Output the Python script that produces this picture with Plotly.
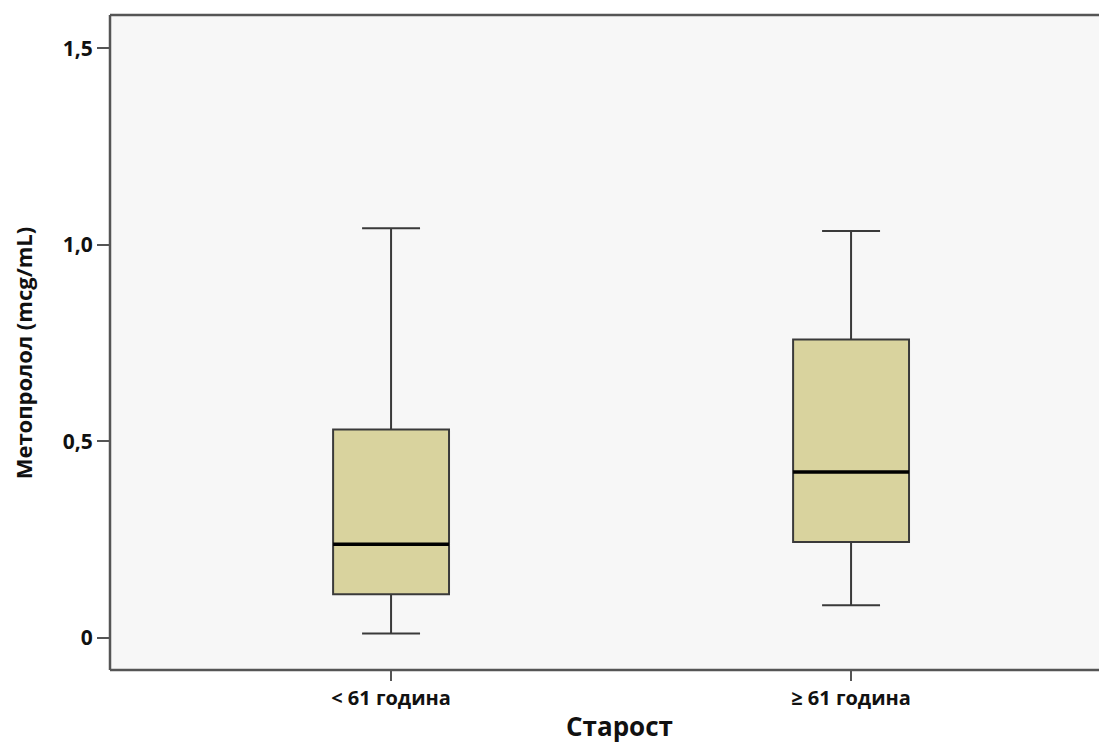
import plotly.graph_objects as go

# Age groups and metoprolol concentration summary (mcg/mL)
groups = ["< 61 година", "≥ 61 година"]
positions = [0, 1]
lower_whisker = [0.011, 0.083]
q1 = [0.111, 0.244]
median = [0.238, 0.422]
q3 = [0.530, 0.759]
upper_whisker = [1.042, 1.035]

y_ticks = [0, 0.5, 1.0, 1.5]
y_tick_labels = ["0", "0,5", "1,0", "1,5"]

x_title = "Старост"
y_title = "Метопролол (mcg/mL)"

box_width = 0.252
fill = "#d9d39e"
edge = "#3a3a3a"
axis_col = "#555555"
font_family = "Open Sans"

fig = go.Figure()
fig.add_trace(go.Box(
    x=positions,
    q1=q1, median=median, q3=q3,
    lowerfence=lower_whisker, upperfence=upper_whisker,
    width=box_width, whiskerwidth=0.5,
    fillcolor=fill,
    line=dict(color=edge, width=2),
    boxpoints=False, showlegend=False, hoverinfo="skip",
))

# Heavier median bars
for xp, m in zip(positions, median):
    fig.add_trace(go.Scatter(
        x=[xp - box_width / 2, xp + box_width / 2], y=[m, m],
        mode="lines", line=dict(color="#000000", width=3.5),
        showlegend=False, hoverinfo="skip",
    ))

# Frame: left, bottom and top edges only
for x0, x1, y0, y1 in [(0, 0, 0, 1), (0, 1, 0, 0), (0, 1, 1, 1)]:
    fig.add_shape(type="line", xref="paper", yref="paper",
                  x0=x0, x1=x1, y0=y0, y1=y1,
                  line=dict(color=axis_col, width=2.5))

# Axis titles
fig.add_annotation(text=x_title, xref="paper", yref="paper", x=0.515, y=-0.114,
                   xanchor="center", yanchor="bottom", showarrow=False, borderpad=0,
                   font=dict(size=26, weight="bold", family=font_family, color="#111111"))
fig.add_annotation(text=y_title, xref="paper", yref="paper", x=-0.088, y=0.485,
                   xanchor="center", yanchor="middle", showarrow=False, textangle=-90,
                   font=dict(size=22, weight="bold", family=font_family, color="#111111"))

fig.update_layout(
    width=1099, height=747,
    margin=dict(l=110, r=0, t=15, b=77),
    paper_bgcolor="white",
    plot_bgcolor="#f7f7f7",
    font=dict(family=font_family, color="#111111"),
    xaxis=dict(
        range=[-0.611, 1.539],
        tickvals=positions, ticktext=groups,
        ticks="outside", ticklen=10, tickwidth=2, tickcolor=axis_col,
        showline=False, showgrid=False, zeroline=False,
        tickfont=dict(size=20, weight="bold", family=font_family),
    ),
    yaxis=dict(
        range=[-0.082, 1.585],
        tickvals=y_ticks, ticktext=y_tick_labels,
        ticks="outside", ticklen=12, tickwidth=2, tickcolor=axis_col,
        showline=False, showgrid=False, zeroline=False,
        tickfont=dict(size=21, weight="bold", family=font_family),
    ),
)

fig.write_html("out.html")
